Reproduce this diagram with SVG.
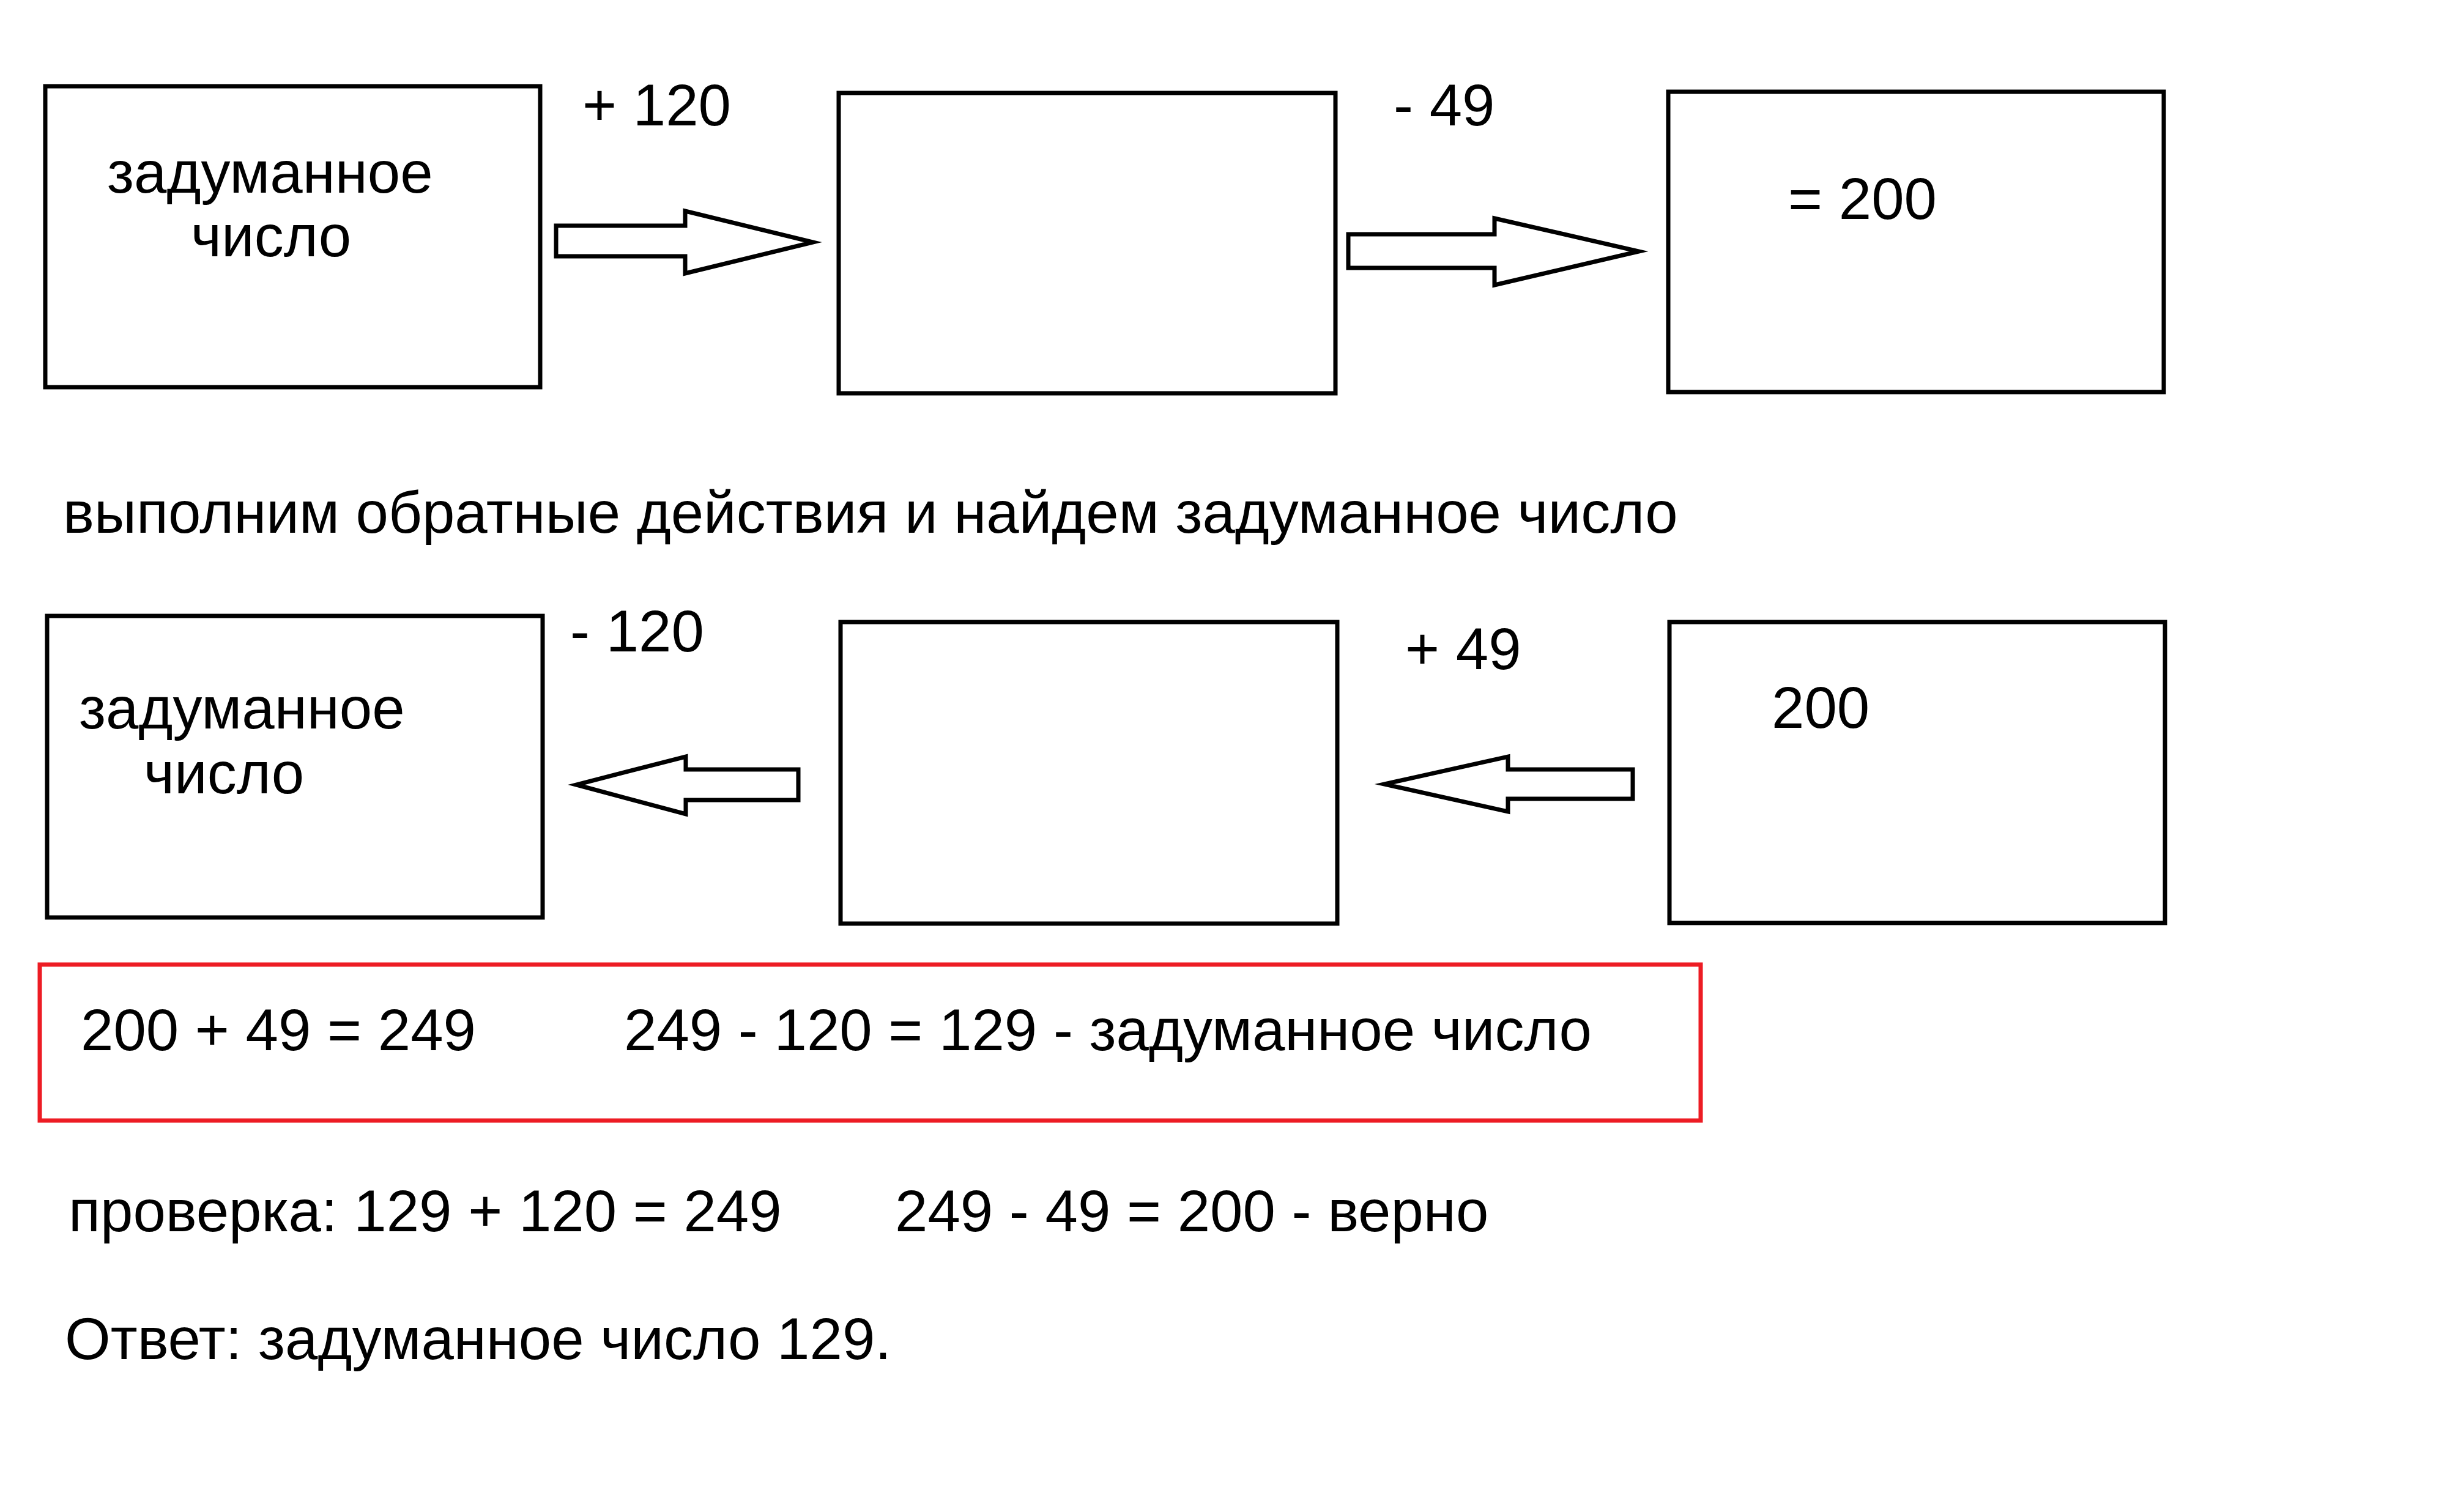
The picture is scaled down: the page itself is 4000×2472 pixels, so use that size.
<svg xmlns="http://www.w3.org/2000/svg" width="4000" height="2472" viewBox="0 0 4000 2472">
<style>
.box{fill:#fff;stroke:#000;stroke-width:7}
.arr{fill:#fff;stroke:#000;stroke-width:7;stroke-linejoin:miter;stroke-miterlimit:6}
.red{fill:none;stroke:#ED1C24;stroke-width:7}
text{font-family:"Liberation Sans",Arial,sans-serif;font-size:96px;fill:#000}
</style>
<rect width="4000" height="2472" fill="#fff"/>
<g id="node-start">
<rect class="box" x="74" y="141" width="809" height="492"/>
<text x="175" y="315">задуманное</text>
<text x="312" y="419">число</text>
</g>
<g id="node-mid-top">
<rect class="box" x="1371" y="152" width="812" height="491"/>
</g>
<g id="node-result-top">
<rect class="box" x="2727" y="150" width="810" height="491"/>
<text x="2923" y="358">= 200</text>
</g>
<g id="node-start-bottom">
<rect class="box" x="77" y="1007" width="810" height="493"/>
<text x="129" y="1191">задуманное</text>
<text x="235" y="1297">число</text>
</g>
<g id="node-mid-bottom">
<rect class="box" x="1374" y="1017" width="812" height="493"/>
</g>
<g id="node-result-bottom">
<rect class="box" x="2729" y="1017" width="810" height="492"/>
<text x="2896" y="1190">200</text>
</g>
<g id="connectors">
<polygon class="arr" points="909,369 1120,369 1120,345 1329,396 1120,447 1120,419 909,419"/>
<polygon class="arr" points="2204,383 2443,383 2443,357 2679,411 2443,466 2443,438 2204,438"/>
<polygon class="arr" points="1305,1258 1121,1258 1121,1237 942,1283 1121,1331 1121,1308 1305,1308"/>
<polygon class="arr" points="2669,1258 2465,1258 2465,1237 2263,1282 2465,1327 2465,1306 2669,1306"/>
<text x="952" y="205">+ 120</text>
<text x="2278" y="205">- 49</text>
<text x="932" y="1065">- 120</text>
<text x="2297" y="1094">+ 49</text>
</g>
<text x="103" y="871">выполним обратные действия и найдем задуманное число</text>
<g id="solution">
<rect class="red" x="65" y="1577" width="2715" height="255"/>
<text x="132" y="1717">200 + 49 = 249</text>
<text x="1020" y="1717">249 - 120 = 129 - задуманное число</text>
</g>
<text x="112" y="2013">проверка: 129 + 120 = 249</text>
<text x="1463" y="2013">249 - 49 = 200 - верно</text>
<text x="106" y="2222">Ответ: задуманное число 129.</text>
</svg>
